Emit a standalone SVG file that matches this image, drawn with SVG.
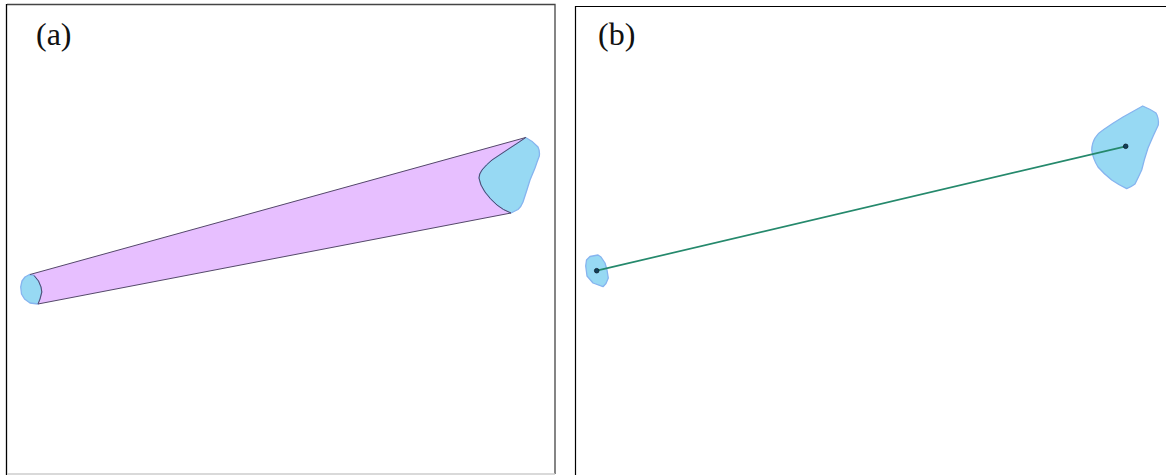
<svg xmlns="http://www.w3.org/2000/svg" width="1166" height="475" viewBox="0 0 1166 475">
<style>
.blob{fill:#97d9f3;stroke:#86b4ef;stroke-width:1.3;stroke-linejoin:round}
.cone{fill:#e7bfff;stroke:none}
.edge{fill:none;stroke:#54486a;stroke-width:1}
.ray{stroke:#25896c;stroke-width:1.7}
.dot{fill:#12405a;stroke:#0a1a28;stroke-width:.8}
.lab{font-family:"Liberation Serif","Times New Roman",serif;font-size:32px;fill:#111}
</style>
<rect width="1166" height="475" fill="#fff"/>
<g id="panel-a">
<path d="M555 474V4.500H7" fill="none" stroke="#444" stroke-width="1.300"/>
<path d="M6.500 475V4" fill="none" stroke="#000" stroke-width="1.300"/>
<path d="M7 474H555" stroke="#ccc" stroke-width="1.500"/>
<text class="lab" x="36" y="45">(a)</text>
</g>
<g id="panel-b">
<path d="M575.500 475V6.500H1166" fill="none" stroke="#000" stroke-width="1.200"/>
<text class="lab" x="598" y="45">(b)</text>
</g>
<g id="node-a-cone">
<path class="cone" d="M30 274.500L525.700 137.500L511 213L38 304Z"/>
</g>
<g id="node-a-right">
<path class="blob" d="M525.700 137.500Q533 141 538 147Q540 151 539.300 156Q537 162 535 168L530 180Q527 190 523 202Q521 207 518 209.500L511 213Q503 210 497 205Q490 199 485 192Q480 185 479 178Q479 174 482 170Q486 165 492 160Q501 154 510 148Z"/>
</g>
<g id="node-a-left">
<path class="blob" d="M29.500 274.500L25 277L22 281L20.700 287L21.500 294L24.500 299L30 303L38 304L40 299L41.800 292L41 287L38.500 281L34 275.500Z"/>
</g>
<g id="node-b-right">
<path class="blob" d="M1142.700 106Q1150 109 1156 113Q1159 118 1158.300 125Q1153 136 1148 148Q1144 160 1141.700 170Q1138 178 1135 184Q1131 187 1126.700 188.700Q1119 185 1111.700 180Q1104 174 1098 167Q1093 159 1091.700 150Q1092 143 1095 138Q1098 133 1103 130Q1113 123 1123 117Z"/>
</g>
<g id="node-b-left">
<path class="blob" d="M598 255L590 256.500L586.500 260L585.700 266L587 276L593 283L603 286.700L606 283.500L608.300 278L607 270L605 263L601 257Z"/>
</g>
<g id="connectors">
<path class="edge" d="M30 274.500L525.700 137.500Q518 143 510 148Q501 154 492 160Q486 165 482 170Q479 174 479 178Q480 185 485 192Q490 199 497 205Q503 210 511 213L38 304"/>
<path class="edge" d="M34 275.500L38.500 281L41 287L41.800 292L40 299L38 304"/>
<path class="ray" d="M596.700 270.700L1125.700 146.300"/>
<circle class="dot" cx="596.700" cy="270.700" r="2.300"/>
<circle class="dot" cx="1125.700" cy="146.300" r="2.300"/>
</g>
</svg>
